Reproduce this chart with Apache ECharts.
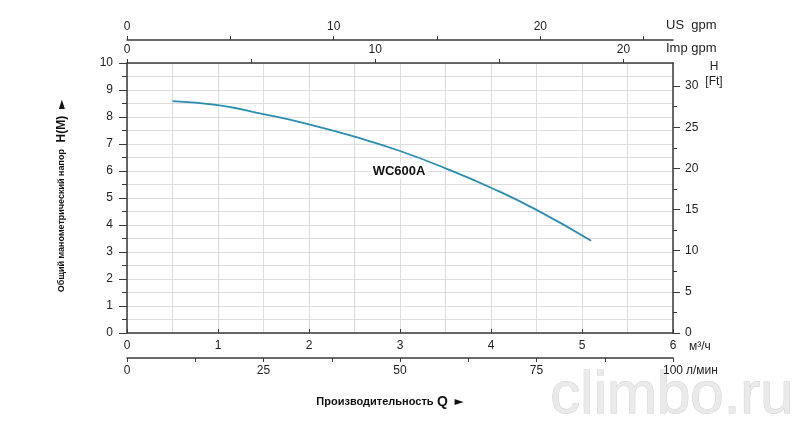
<!DOCTYPE html>
<html>
<head>
<meta charset="utf-8">
<script src="https://cdn.jsdelivr.net/npm/echarts@6/dist/echarts.min.js"></script>
<style>
html,body{margin:0;padding:0;background:#fff;}
#chart{width:810px;height:423px;}
</style>
</head>
<body>
<div id="chart"></div>
<script>
// Data
var flowM3h = [0.5, 1.0, 1.5, 2.0, 2.5, 3.0, 3.5, 4.0, 4.5, 5.1];
var headM   = [8.59, 8.44, 8.11, 7.73, 7.27, 6.74, 6.10, 5.38, 4.56, 3.42];
var seriesName = 'WC600A';
// Axis ranges and tick values (units)
var qMaxM3h = 6;
var qMaxLmin = 100;
var qMaxUSgpm = 6 * 4.40287;
var qMaxImpgpm = 6 * 3.66615;
var hMaxM = 10;
var hMaxFt = 10 / 0.3048;
var ftMajor = [0, 5, 10, 15, 20, 25, 30];
var ftMinor = [2.5, 7.5, 12.5, 17.5, 22.5, 27.5];

var points = flowM3h.map(function (q, i) { return [q, headM[i]]; });

var FONT = '"Liberation Sans", Arial, sans-serif';
var dark = '#3a3a3a';
var gridCol = '#dcdcdc';
var txt = '#222';

function every(n) {
  return function (v) {
    var r = Math.abs(v / n - Math.round(v / n));
    return r < 1e-6 ? String(Math.round(v * 100) / 100) : '';
  };
}

var chart = echarts.init(document.getElementById('chart'), null, {renderer: 'canvas'});
chart.setOption({
  animation: false,
  backgroundColor: '#fff',
  textStyle: {fontFamily: FONT},
  grid: {left: 127, right: 137, top: 63, bottom: 90, containLabel: false},
  xAxis: [
    {
      type: 'value', position: 'bottom', min: 0, max: qMaxM3h, interval: 1,
      axisLine: {show: true, onZero: false, lineStyle: {color: dark, width: 1.5}},
      axisTick: {show: true, inside: true, length: 4, lineStyle: {color: dark}},
      minorTick: {show: false, splitNumber: 2},
      axisLabel: {margin: 7, fontSize: 12, color: txt, fontFamily: FONT},
      splitLine: {show: true, lineStyle: {color: gridCol, width: 1}},
      minorSplitLine: {show: true, lineStyle: {color: gridCol, width: 1}}
    },
    {
      type: 'value', position: 'bottom', offset: 25, min: 0, max: qMaxLmin, interval: 12.5,
      axisLine: {show: true, onZero: false, lineStyle: {color: dark, width: 1.5}},
      axisTick: {show: true, length: 4, lineStyle: {color: dark}},
      axisLabel: {margin: 7, fontSize: 12, color: txt, fontFamily: FONT, formatter: every(25)},
      splitLine: {show: false}
    },
    {
      type: 'value', position: 'top', min: 0, max: qMaxImpgpm, interval: 5,
      axisLine: {show: true, onZero: false, lineStyle: {color: dark, width: 1.5}},
      axisTick: {show: true, length: 4, lineStyle: {color: dark}},
      axisLabel: {margin: 7, fontSize: 12, color: txt, fontFamily: FONT, formatter: every(10), showMaxLabel: false},
      splitLine: {show: false}
    },
    {
      type: 'value', position: 'top', offset: 23, min: 0, max: qMaxUSgpm, interval: 5,
      axisLine: {show: true, onZero: false, lineStyle: {color: dark, width: 1.5}},
      axisTick: {show: true, length: 4, lineStyle: {color: dark}},
      axisLabel: {margin: 7, fontSize: 12, color: txt, fontFamily: FONT, formatter: every(10), showMaxLabel: false},
      splitLine: {show: false}
    }
  ],
  yAxis: [
    {
      type: 'value', position: 'left', min: 0, max: hMaxM, interval: 1,
      axisLine: {show: true, onZero: false, lineStyle: {color: dark, width: 1.5}},
      axisTick: {show: true, length: 8, lineStyle: {color: dark}},
      minorTick: {show: true, splitNumber: 2, length: 5, lineStyle: {color: dark}},
      axisLabel: {margin: 14, fontSize: 12, color: txt, fontFamily: FONT},
      splitLine: {show: true, lineStyle: {color: gridCol, width: 1}},
      minorSplitLine: {show: true, lineStyle: {color: gridCol, width: 1}}
    },
    {
      type: 'value', position: 'right', min: 0, max: hMaxFt,
      axisLine: {show: true, onZero: false, lineStyle: {color: dark, width: 1.5}},
      axisTick: {show: true, length: 7, customValues: ftMajor, lineStyle: {color: dark}},
      axisLabel: {margin: 12, fontSize: 12, color: txt, fontFamily: FONT, customValues: ftMajor},
      splitLine: {show: false}
    },
    {
      type: 'value', position: 'right', min: 0, max: hMaxFt,
      axisLine: {show: false, onZero: false},
      axisTick: {show: true, length: 4, customValues: ftMinor, lineStyle: {color: dark}},
      axisLabel: {show: false},
      splitLine: {show: false}
    }
  ],
  series: [
    {
      name: seriesName, type: 'line', xAxisIndex: 0, yAxisIndex: 0,
      data: points, smooth: 0.5, showSymbol: false, symbol: 'none',
      lineStyle: {color: '#2a8db2', width: 1.8}
    }
  ],
  graphic: [
    {type: 'text', left: 666, top: 19, style: {text: 'US  gpm', font: '13px ' + FONT, fill: txt}},
    {type: 'text', left: 666, top: 42, style: {text: 'Imp gpm', font: '13px ' + FONT, fill: txt}},
    {type: 'text', x: 714, y: 67, style: {text: 'H', font: '12px ' + FONT, fill: txt, textAlign: 'center', textVerticalAlign: 'middle'}},
    {type: 'text', x: 714, y: 82, style: {text: '[Ft]', font: '12px ' + FONT, fill: txt, textAlign: 'center', textVerticalAlign: 'middle'}},
    {type: 'text', x: 689, y: 347, style: {text: 'м³/ч', font: '12px ' + FONT, fill: txt, textVerticalAlign: 'middle'}},
    {type: 'text', x: 686, y: 371, style: {text: 'л/мин', font: '12px ' + FONT, fill: txt, textVerticalAlign: 'middle'}},
    {type: 'text', x: 399, y: 171, z: 10, style: {text: seriesName, font: 'bold 13px ' + FONT, fill: '#111',
      textAlign: 'center', textVerticalAlign: 'middle', backgroundColor: '#fff', padding: [1, 2]}},
    {type: 'text', x: 62, y: 196, rotation: Math.PI / 2,
      style: {
        text: '{a|Общий манометрический напор}  {b|H(M)}  {c|►}',
        textAlign: 'center', textVerticalAlign: 'middle',
        rich: {
          a: {font: 'bold 9px ' + FONT, fill: '#111'},
          b: {font: 'bold 12px ' + FONT, fill: '#111'},
          c: {font: 'bold 12px "DejaVu Sans", sans-serif', fill: '#111'}
        }
      }
    },
    {type: 'text', x: 390, y: 402,
      style: {
        text: '{a|Производительность} {b|Q}  {c|►}',
        textAlign: 'center', textVerticalAlign: 'middle',
        rich: {
          a: {font: 'bold 11px ' + FONT, fill: '#111'},
          b: {font: 'bold 14px ' + FONT, fill: '#111'},
          c: {font: 'bold 12px "DejaVu Sans", sans-serif', fill: '#111'}
        }
      }
    },
    {type: 'text', x: 672, y: 396, z: -1,
      style: {text: 'climbo.ru', font: '60px ' + FONT, fill: '#eaeaea', stroke: '#d2d2d2', lineWidth: 1,
        textAlign: 'center', textVerticalAlign: 'middle'}}
  ]
});
</script>
</body>
</html>
